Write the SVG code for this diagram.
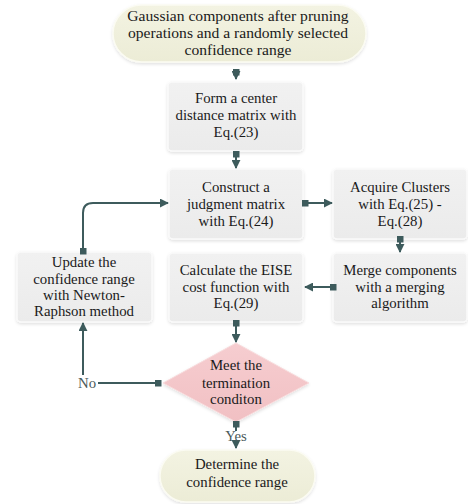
<svg xmlns="http://www.w3.org/2000/svg" width="468" height="504" viewBox="0 0 468 504">
<defs>
<linearGradient id="gy" x1="0" y1="0" x2="0" y2="1">
<stop offset="0" stop-color="#f3f3e2"/><stop offset="1" stop-color="#ececd6"/>
</linearGradient>
<linearGradient id="gg" x1="0" y1="0" x2="0" y2="1">
<stop offset="0" stop-color="#f1f1f1"/><stop offset="1" stop-color="#ebebeb"/>
</linearGradient>
<linearGradient id="gp" x1="0" y1="0" x2="0" y2="1">
<stop offset="0" stop-color="#f6cdd0"/><stop offset="1" stop-color="#f1c0c3"/>
</linearGradient>
<filter id="sh" x="-10%" y="-10%" width="120%" height="130%">
<feDropShadow dx="0" dy="1.5" stdDeviation="1.5" flood-color="#000" flood-opacity="0.12"/>
</filter>
<marker id="ah" viewBox="0 0 10 10" refX="9" refY="5" markerWidth="9" markerHeight="9" markerUnits="userSpaceOnUse" orient="auto">
<path d="M0,0 L10,5 L0,10 Z" fill="#3d5b5c"/>
</marker>
<marker id="sq" viewBox="0 0 10 10" refX="5" refY="5" markerWidth="7" markerHeight="7" markerUnits="userSpaceOnUse" orient="auto">
<rect x="0" y="0" width="10" height="10" fill="#3d5b5c"/>
</marker>
</defs>
<style>
text{font-family:"Liberation Serif","Times New Roman",serif;font-size:14.8px;fill:#1a1a1a;text-anchor:middle}
.big{font-size:15.6px}
.box{fill:url(#gg);stroke:#fafafa;stroke-width:1.5;filter:url(#sh)}
.term{fill:url(#gy);stroke:#fbfbf2;stroke-width:1.5;filter:url(#sh)}
.dec{fill:url(#gp);stroke:#f8dcdd;stroke-width:1;filter:url(#sh)}
.c{fill:none;stroke:#3d5b5c;stroke-width:2;marker-start:url(#sq);marker-end:url(#ah)}
.ns{marker-start:none}
.ne{marker-end:none}
.lbl{fill:#4a5a5a}
</style>
<g id="start">
<rect class="term" x="113" y="5" width="253" height="57" rx="28.5"/>
<text class="big" x="238" y="21">Gaussian components after pruning</text>
<text class="big" x="238" y="38">operations and a randomly selected</text>
<text class="big" x="238" y="55">confidence range</text>
</g>
<g id="form">
<rect class="box" x="168" y="82" width="135" height="69" rx="4"/>
<text x="236" y="103">Form a center</text>
<text x="236" y="120">distance matrix with</text>
<text x="236" y="137">Eq.(23)</text>
</g>
<g id="construct">
<rect class="box" x="169" y="169" width="134" height="70" rx="4"/>
<text x="236" y="192">Construct a</text>
<text x="236" y="209">judgment matrix</text>
<text x="236" y="226">with Eq.(24)</text>
</g>
<g id="acquire">
<rect class="box" x="333" y="169" width="134" height="70" rx="4"/>
<text x="400" y="192">Acquire Clusters</text>
<text x="400" y="209">with Eq.(25) -</text>
<text x="400" y="226">Eq.(28)</text>
</g>
<g id="merge">
<rect class="box" x="333" y="253" width="134" height="69" rx="4"/>
<text x="400" y="275">Merge components</text>
<text x="400" y="292">with a merging</text>
<text x="400" y="308">algorithm</text>
</g>
<g id="calculate">
<rect class="box" x="169" y="253" width="134" height="69" rx="4"/>
<text x="236" y="275">Calculate the EISE</text>
<text x="236" y="292">cost function with</text>
<text x="236" y="308">Eq.(29)</text>
</g>
<g id="update">
<rect class="box" x="17" y="252" width="135" height="70" rx="4"/>
<text x="84" y="267">Update the</text>
<text x="84" y="284">confidence range</text>
<text x="84" y="300">with Newton-</text>
<text x="84" y="316">Raphson method</text>
</g>
<g id="decision">
<polygon class="dec" points="236,343 309,383 236,422 163,383"/>
<text x="236" y="370">Meet the</text>
<text x="236" y="388">termination</text>
<text x="236" y="404">conditon</text>
</g>
<g id="end">
<rect class="term" x="160" y="450" width="155" height="52" rx="26"/>
<text x="237" y="469">Determine the</text>
<text x="237" y="487">confidence range</text>
</g>
<g id="connectors">
<path class="c" d="M236,72 V79"/>
<path class="c" d="M236,154 V168"/>
<path class="c" d="M305,203 H332"/>
<path class="c" d="M400,239 V252"/>
<path class="c" d="M333,287 H305"/>
<path class="c" d="M236,323 V342"/>
<path class="c" d="M83,251 V213 Q83,203 93,203 H168"/>
<path class="c ne" d="M158,383 H98"/>
<path class="c ns" d="M83,375 V323"/>
<path class="c ne" d="M236,424 V431"/>
<path class="c ns" d="M236,443 V448"/>
<text class="lbl" x="87" y="388">No</text>
<text class="lbl" x="236" y="441">Yes</text>
</g>
</svg>
